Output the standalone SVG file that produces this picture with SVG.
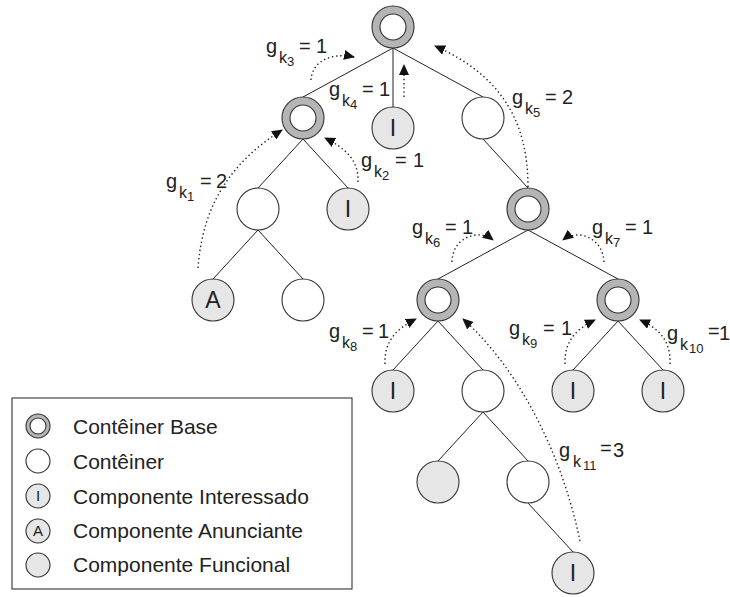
<svg xmlns="http://www.w3.org/2000/svg" width="730" height="597" viewBox="0 0 730 597">
<defs>
<style>
.edge{stroke:#222;stroke-width:1;fill:none}
.dot{stroke:#222;stroke-width:1.4;fill:none;stroke-dasharray:1.4 2.8}
.ro{fill:#b5b5b5;stroke:#333;stroke-width:1.1}
.ri{fill:#fff;stroke:#333;stroke-width:1.1}
.ct{fill:#fff;stroke:#333;stroke-width:1.1}
.cp{fill:#e6e6e6;stroke:#333;stroke-width:1.1}
.nt{font-family:"Liberation Sans",Arial,sans-serif;font-size:23px;fill:#222;text-anchor:middle}
.lt{font-family:"Liberation Sans",Arial,sans-serif;font-size:15px;fill:#222;text-anchor:middle}
.lbl{font-family:"Liberation Sans",Arial,sans-serif;font-size:20px;fill:#222}
.s1{font-size:16px}
.s2{font-size:13px}
.leg{font-family:"Liberation Sans",Arial,sans-serif;font-size:21px;fill:#222}
</style>
<marker id="ah" viewBox="0 0 11 10" refX="10" refY="5" markerWidth="11" markerHeight="10" markerUnits="userSpaceOnUse" orient="auto">
<path d="M0,0 L11,5 L0,10 z" fill="#111"/>
</marker>
</defs>
<g id="connectors">
<path class="edge" d="M393,48 L303,97"/>
<path class="edge" d="M393,48 L393,107"/>
<path class="edge" d="M393,48 L483,97"/>
<path class="edge" d="M303,139 L258,188"/>
<path class="edge" d="M303,139 L348,188"/>
<path class="edge" d="M258,230 L213,279"/>
<path class="edge" d="M258,230 L303,279"/>
<path class="edge" d="M483,139 L528,188"/>
<path class="edge" d="M528,230 L438,279"/>
<path class="edge" d="M528,230 L618,279"/>
<path class="edge" d="M438,321 L393,370"/>
<path class="edge" d="M438,321 L483,370"/>
<path class="edge" d="M618,321 L573,370"/>
<path class="edge" d="M618,321 L663,370"/>
<path class="edge" d="M483,412 L438,461"/>
<path class="edge" d="M483,412 L528,461"/>
<path class="edge" d="M528,503 L573,552"/>
<path class="dot" marker-end="url(#ah)" d="M311,80 C312,62 330,52 354,57"/>
<path class="dot" marker-end="url(#ah)" d="M404,97 L404,65"/>
<path class="dot" marker-end="url(#ah)" d="M528,187 C528,120 500,75 435,46"/>
<path class="dot" marker-end="url(#ah)" d="M198,268 C203,200 235,160 282,130"/>
<path class="dot" marker-end="url(#ah)" d="M358,182 C359,160 345,148 325,138"/>
<path class="dot" marker-end="url(#ah)" d="M452,262 C452,238 478,228 493,240"/>
<path class="dot" marker-end="url(#ah)" d="M604,262 C603,238 578,228 563,240"/>
<path class="dot" marker-end="url(#ah)" d="M385,364 C384,340 398,328 416,319"/>
<path class="dot" marker-end="url(#ah)" d="M565,364 C564,340 578,328 595,320"/>
<path class="dot" marker-end="url(#ah)" d="M670,364 C671,340 658,328 640,320"/>
<path class="dot" marker-end="url(#ah)" d="M580,541 C562,455 520,370 463,319"/>
</g>
<g id="labels">
<text class="lbl"><tspan x="266" y="53">g</tspan><tspan class="s1" x="279" y="63">k</tspan><tspan class="s2" x="287" y="66">3</tspan><tspan x="299" y="53">=</tspan><tspan x="316" y="53">1</tspan></text>
<text class="lbl"><tspan x="329" y="96">g</tspan><tspan class="s1" x="342" y="106">k</tspan><tspan class="s2" x="350" y="109">4</tspan><tspan x="362" y="96">=</tspan><tspan x="379" y="96">1</tspan></text>
<text class="lbl"><tspan x="512" y="104">g</tspan><tspan class="s1" x="525" y="114">k</tspan><tspan class="s2" x="533" y="117">5</tspan><tspan x="545" y="104">=</tspan><tspan x="562" y="104">2</tspan></text>
<text class="lbl"><tspan x="166" y="188">g</tspan><tspan class="s1" x="179" y="198">k</tspan><tspan class="s2" x="187" y="201">1</tspan><tspan x="200" y="188">=</tspan><tspan x="216" y="188">2</tspan></text>
<text class="lbl"><tspan x="361" y="167">g</tspan><tspan class="s1" x="374" y="177">k</tspan><tspan class="s2" x="382" y="180">2</tspan><tspan x="395" y="167">=</tspan><tspan x="413" y="167">1</tspan></text>
<text class="lbl"><tspan x="412" y="234">g</tspan><tspan class="s1" x="425" y="244">k</tspan><tspan class="s2" x="433" y="247">6</tspan><tspan x="445" y="234">=</tspan><tspan x="462" y="234">1</tspan></text>
<text class="lbl"><tspan x="592" y="234">g</tspan><tspan class="s1" x="605" y="244">k</tspan><tspan class="s2" x="613" y="247">7</tspan><tspan x="625" y="234">=</tspan><tspan x="642" y="234">1</tspan></text>
<text class="lbl"><tspan x="329" y="338">g</tspan><tspan class="s1" x="342" y="348">k</tspan><tspan class="s2" x="350" y="351">8</tspan><tspan x="362" y="338">=</tspan><tspan x="378" y="338">1</tspan></text>
<text class="lbl"><tspan x="509" y="335">g</tspan><tspan class="s1" x="522" y="345">k</tspan><tspan class="s2" x="530" y="348">9</tspan><tspan x="543" y="335">=</tspan><tspan x="561" y="335">1</tspan></text>
<text class="lbl"><tspan x="667" y="340">g</tspan><tspan class="s1" x="680" y="350">k</tspan><tspan class="s2" x="689" y="353">10</tspan><tspan x="708" y="338">=</tspan><tspan x="719" y="340">1</tspan></text>
<text class="lbl"><tspan x="559" y="457">g</tspan><tspan class="s1" x="573" y="467">k</tspan><tspan class="s2" x="583" y="470">11</tspan><tspan x="600" y="455">=</tspan><tspan x="613" y="457">3</tspan></text>
</g>
<g id="n_root"><circle class="ro" cx="393" cy="27" r="21"/><circle class="ri" cx="393" cy="27" r="13"/></g>
<g id="n_lb"><circle class="ro" cx="303" cy="118" r="21"/><circle class="ri" cx="303" cy="118" r="13"/></g>
<g id="n_i1"><circle class="cp" cx="393" cy="128" r="21"/><text class="nt" x="393" y="136">I</text></g>
<g id="n_c1"><circle class="ct" cx="483" cy="118" r="21"/></g>
<g id="n_c2"><circle class="ct" cx="258" cy="209" r="21"/></g>
<g id="n_i2"><circle class="cp" cx="348" cy="209" r="21"/><text class="nt" x="348" y="217">I</text></g>
<g id="n_a"><circle class="cp" cx="213" cy="300" r="21"/><text class="nt" x="213" y="308">A</text></g>
<g id="n_c3"><circle class="ct" cx="303" cy="300" r="21"/></g>
<g id="n_b2"><circle class="ro" cx="528" cy="209" r="21"/><circle class="ri" cx="528" cy="209" r="13"/></g>
<g id="n_b3"><circle class="ro" cx="438" cy="300" r="21"/><circle class="ri" cx="438" cy="300" r="13"/></g>
<g id="n_b4"><circle class="ro" cx="618" cy="300" r="21"/><circle class="ri" cx="618" cy="300" r="13"/></g>
<g id="n_i3"><circle class="cp" cx="393" cy="391" r="21"/><text class="nt" x="393" y="399">I</text></g>
<g id="n_c4"><circle class="ct" cx="483" cy="391" r="21"/></g>
<g id="n_i4"><circle class="cp" cx="573" cy="391" r="21"/><text class="nt" x="573" y="399">I</text></g>
<g id="n_i5"><circle class="cp" cx="663" cy="391" r="21"/><text class="nt" x="663" y="399">I</text></g>
<g id="n_f"><circle class="cp" cx="438" cy="482" r="21"/></g>
<g id="n_c5"><circle class="ct" cx="528" cy="482" r="21"/></g>
<g id="n_i6"><circle class="cp" cx="573" cy="573" r="21"/><text class="nt" x="573" y="581">I</text></g>
<g id="legend">
<rect x="12" y="398" width="340" height="191" fill="#fff" stroke="#333" stroke-width="1.1"/>
<circle class="ro" cx="38" cy="426" r="12"/><circle class="ri" cx="38" cy="426" r="8"/>
<text class="leg" x="73" y="434">Contêiner Base</text>
<circle class="ct" cx="38" cy="461" r="12"/>
<text class="leg" x="73" y="469">Contêiner</text>
<circle class="cp" cx="38" cy="496" r="12"/><text class="lt" x="38" y="501">I</text>
<text class="leg" x="73" y="504">Componente Interessado</text>
<circle class="cp" cx="38" cy="531" r="12"/><text class="lt" x="38" y="536">A</text>
<text class="leg" x="73" y="538">Componente Anunciante</text>
<circle class="cp" cx="38" cy="565" r="12"/>
<text class="leg" x="73" y="572">Componente Funcional</text>
</g>
</svg>
